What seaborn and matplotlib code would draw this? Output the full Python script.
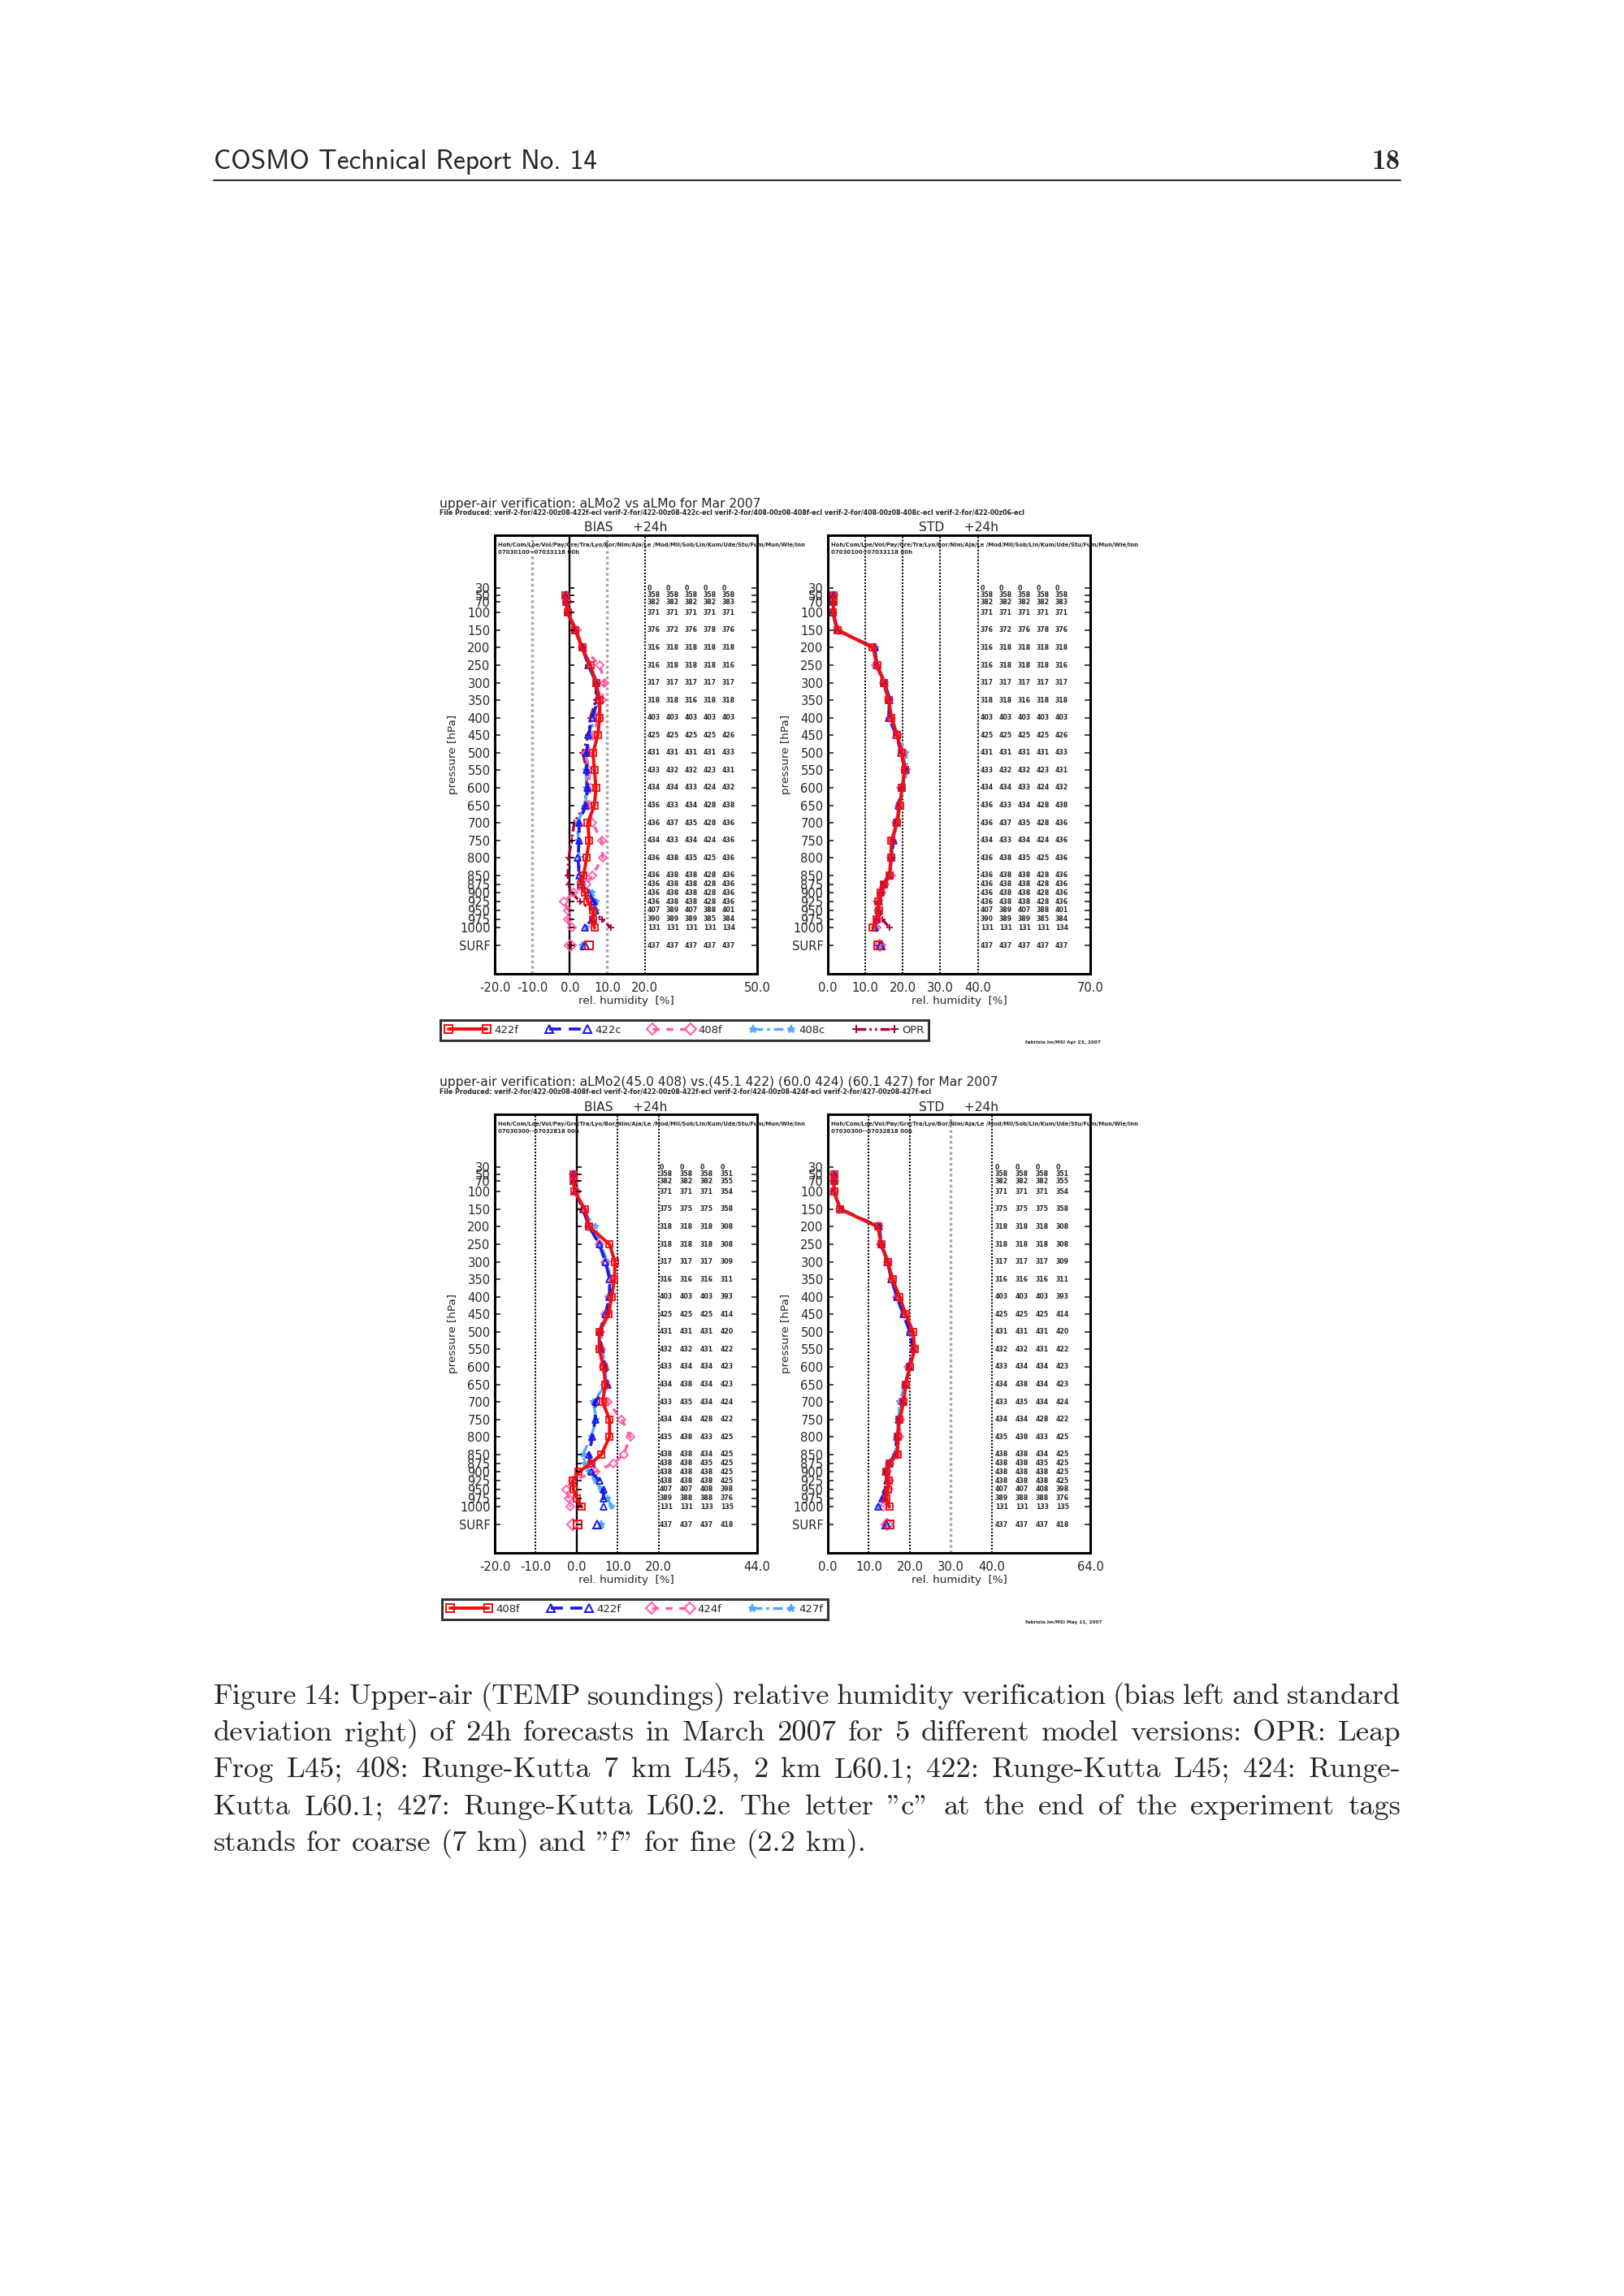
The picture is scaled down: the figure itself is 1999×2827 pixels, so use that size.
# Page 18 of COSMO Technical Report No. 14: upper-air rel. humidity verification
# Writes: out.png (2000 x 2827)

import pandas as pd
import matplotlib
matplotlib.use("Agg")
import matplotlib.pyplot as plt
from matplotlib.lines import Line2D
import seaborn as sns
import warnings
warnings.filterwarnings("ignore")

W, H, DPI = 2000, 2827, 242

# ─── DATA ────────────────────────────────────────────────────────────────────

LEVELS = [50, 70, 100, 150, 200, 250, 300, 350, 400, 450, 500, 550, 600, 650,
          700, 750, 800, 850, 875, 900, 925, 950, 975, 1000]
TICK_LEVELS = [30] + LEVELS

# top block: aLMo2 vs aLMo
NAMES_1 = ["422f", "422c", "408f", "408c", "OPR"]
BIAS1_422F = [-1.2, -1.0, -0.6, 1.5, 3.3, 5.5, 7.0, 8.0, 8.0, 7.5, 6.2, 6.6, 7.0, 6.6,
              4.8, 5.2, 4.5, 3.7, 3.0, 4.0, 4.8, 6.2, 6.2, 6.6]
BIAS1_422C = [-1.2, -1.0, -0.5, 1.5, 3.3, 5.0, 7.0, 7.5, 6.0, 5.0, 4.5, 4.5, 4.8, 4.3,
              2.5, 2.5, 2.2, 2.5, 3.0, 5.0, 6.5, 6.8, 6.0, 4.0]
BIAS1_408F = [-1.0, -0.5, -0.2, 1.8, 3.5, 8.0, 9.3, 8.5, 7.5, 6.5, 4.5, 5.0, 5.5, 5.0,
              6.0, 8.5, 8.8, 6.0, 4.5, 1.0, -1.5, -0.5, -0.5, 0.5]
BIAS1_408C = [-1.0, -0.8, -0.3, 1.5, 3.3, 5.3, 7.5, 8.0, 6.5, 5.5, 4.5, 4.3, 4.5, 4.2,
              2.0, 2.3, 2.5, 2.8, 3.5, 6.0, 7.0, 7.0, 6.5, 4.5]
BIAS1_OPR = [-1.0, -0.8, -0.3, 1.5, 3.3, 5.0, 7.0, 7.0, 5.5, 5.0, 3.5, 4.5, 4.5, 4.0,
             1.2, 0.5, -0.3, -0.5, -0.3, 0.5, 2.8, 6.0, 8.5, 11.0]
BIAS1_SURF = [5.2, 4.0, 0.2, 3.5, 0.3]

STD1_422F = [1.6, 1.6, 1.4, 2.6, 12.0, 13.2, 15.0, 16.2, 17.0, 18.5, 19.8, 20.5, 19.8, 19.2,
             18.5, 17.0, 16.8, 16.5, 15.0, 14.0, 13.5, 13.6, 13.0, 12.0]
STD1_422C = [1.5, 1.5, 1.3, 2.5, 12.5, 13.0, 15.2, 16.5, 16.2, 18.3, 19.5, 20.8, 19.8, 18.8,
             18.2, 17.5, 17.0, 16.3, 14.8, 14.0, 13.6, 13.5, 13.0, 12.5]
STD1_408F = [1.5, 1.4, 1.3, 2.8, 12.3, 12.8, 15.0, 16.3, 16.6, 18.6, 20.2, 20.6, 19.6, 19.0,
             18.2, 17.2, 16.8, 16.8, 15.2, 14.2, 13.2, 13.5, 13.2, 13.0]
STD1_408C = [1.6, 1.6, 1.4, 2.5, 12.6, 13.2, 15.3, 16.6, 16.8, 18.9, 20.8, 21.2, 20.0, 19.2,
             18.5, 17.4, 17.2, 16.6, 15.1, 14.3, 13.8, 13.7, 13.1, 12.7]
STD1_OPR = [1.5, 1.5, 1.3, 2.4, 12.2, 13.0, 14.8, 16.2, 16.4, 18.4, 19.6, 20.4, 19.9, 19.0,
            18.3, 17.2, 16.9, 16.4, 15.0, 14.1, 13.4, 13.7, 14.5, 16.5]
STD1_SURF = [13.5, 14.0, 13.8, 14.2, 13.6]

# station counts per level (rows 30 ... 1000, SURF)
COUNT1_422F = [0, 358, 382, 371, 376, 316, 316, 317, 318, 403, 425, 431, 433, 434, 436,
               436, 434, 436, 436, 436, 436, 436, 407, 390, 131, 437]
COUNT1_422C = [0, 358, 382, 371, 372, 318, 318, 317, 318, 403, 425, 431, 432, 434, 433,
               437, 433, 438, 438, 438, 438, 438, 389, 389, 131, 437]
COUNT1_408F = [0, 358, 382, 371, 376, 318, 318, 317, 316, 403, 425, 431, 432, 433, 434,
               435, 434, 435, 438, 438, 438, 438, 407, 389, 131, 437]
COUNT1_408C = [0, 358, 382, 371, 378, 318, 318, 317, 318, 403, 425, 431, 423, 424, 428,
               428, 424, 425, 428, 428, 428, 428, 388, 385, 131, 437]
COUNT1_OPR = [0, 358, 383, 371, 376, 318, 316, 317, 318, 403, 426, 433, 431, 432, 438,
              436, 436, 436, 436, 436, 436, 436, 401, 384, 134, 437]

# bottom block: aLMo2 fine-mesh versions
NAMES_2 = ["408f", "422f", "424f", "427f"]
BIAS2_408F = [-0.8, -0.8, -0.5, 2.0, 3.0, 8.0, 9.3, 9.2, 8.5, 7.8, 5.5, 5.5, 6.5, 7.0,
              6.3, 8.0, 8.0, 6.0, 3.5, 0.5, -1.0, -0.8, 0.0, 1.2]
BIAS2_422F = [-0.8, -0.8, -0.3, 1.5, 3.0, 5.5, 7.0, 8.0, 8.0, 7.0, 5.5, 6.0, 7.0, 7.5,
              4.5, 4.5, 3.8, 3.0, 3.3, 3.5, 5.5, 6.5, 6.5, 6.5]
BIAS2_424F = [-0.8, -0.5, 0.0, 1.5, 3.0, 5.5, 7.0, 8.5, 8.0, 7.0, 5.8, 6.0, 6.5, 7.0,
              7.5, 11.0, 13.0, 11.5, 9.0, 4.5, -1.0, -2.5, -2.0, -1.5]
BIAS2_427F = [-0.5, -0.5, 0.0, 1.3, 4.5, 5.8, 7.5, 8.3, 8.0, 7.5, 6.0, 6.2, 7.0, 7.2,
              4.0, 4.8, 3.5, 1.5, 2.0, 3.0, 4.5, 6.0, 7.5, 8.5]
BIAS2_SURF = [0.3, 5.0, -1.0, 6.0]

STD2_408F = [1.5, 1.5, 1.5, 3.0, 12.2, 13.0, 14.6, 15.8, 17.5, 19.0, 20.8, 21.2, 20.0, 19.0,
             18.5, 17.5, 17.0, 17.0, 15.0, 14.3, 14.8, 14.6, 14.2, 15.0]
STD2_422F = [1.5, 1.5, 1.4, 3.2, 12.5, 13.0, 14.5, 15.5, 16.8, 18.4, 20.0, 20.8, 19.8, 18.9,
             18.3, 17.3, 16.8, 16.5, 14.8, 14.0, 14.5, 14.0, 13.3, 12.3]
STD2_424F = [1.4, 1.5, 1.5, 3.0, 12.3, 12.8, 14.7, 15.7, 16.9, 18.7, 20.3, 21.0, 19.7, 19.0,
             18.3, 17.6, 17.5, 16.8, 15.0, 14.4, 15.0, 14.8, 14.0, 13.5]
STD2_427F = [1.5, 1.5, 1.5, 3.2, 12.6, 13.2, 14.8, 15.6, 16.8, 18.6, 20.2, 21.0, 19.8, 18.8,
             17.5, 17.3, 16.8, 16.5, 14.9, 14.3, 14.8, 14.5, 13.8, 12.5]
STD2_SURF = [15.0, 14.2, 14.5, 14.3]

COUNT2_408F = [0, 358, 382, 371, 375, 318, 318, 317, 316, 403, 425, 431, 432, 433, 434,
               433, 434, 435, 438, 438, 438, 438, 407, 389, 131, 437]
COUNT2_422F = [0, 358, 382, 371, 375, 318, 318, 317, 316, 403, 425, 431, 432, 434, 438,
               435, 434, 438, 438, 438, 438, 438, 407, 388, 131, 437]
COUNT2_424F = [0, 358, 382, 371, 375, 318, 318, 317, 316, 403, 425, 431, 431, 434, 434,
               434, 428, 433, 434, 435, 438, 438, 408, 388, 133, 437]
COUNT2_427F = [0, 351, 355, 354, 358, 308, 308, 309, 311, 393, 414, 420, 422, 423, 423,
               424, 422, 425, 425, 425, 425, 425, 398, 376, 135, 418]

BIAS1_TICKS = [-20, -10, 0, 10, 20, 50]
STD1_TICKS = [0, 10, 20, 30, 40, 70]
BIAS2_TICKS = [-20, -10, 0, 10, 20, 44]
STD2_TICKS = [0, 10, 20, 30, 40, 64]

TITLE_1 = "upper-air verification: aLMo2 vs aLMo for Mar 2007"
TITLE_2 = "upper-air verification: aLMo2(45.0 408) vs.(45.1 422) (60.0 424) (60.1 427) for Mar 2007"
FILES_1 = ("File Produced: verif-2-for/422-00z08-422f-ecl verif-2-for/422-00z08-422c-ecl "
           "verif-2-for/408-00z08-408f-ecl verif-2-for/408-00z08-408c-ecl verif-2-for/422-00z06-ecl")
FILES_2 = ("File Produced: verif-2-for/422-00z08-408f-ecl verif-2-for/422-00z08-422f-ecl "
           "verif-2-for/424-00z08-424f-ecl verif-2-for/427-00z08-427f-ecl")
STATIONS = "Hoh/Com/Loe/Vol/Pay/Gre/Tra/Lyo/Bor/Nim/Aja/Le /Mod/Mil/Sob/Lin/Kum/Ude/Stu/Fum/Mun/Wie/Inn"
PERIOD_1 = "07030100--07033118 00h"
PERIOD_2 = "07030300--07032818 00h"
STAMP_1 = "fabrizio.lm/MSI Apr 23, 2007"
STAMP_2 = "fabrizio.lm/MSI May 11, 2007"

HEADER = "COSMO Technical Report No. 14"
PAGE = "18"
CAPTION = [
    "Figure 14: Upper-air (TEMP soundings) relative humidity verification (bias left and standard",
    "deviation right) of 24h forecasts in March 2007 for 5 different model versions: OPR: Leap",
    "Frog L45; 408: Runge-Kutta 7 km L45, 2 km L60.1; 422: Runge-Kutta L45; 424: Runge-",
    'Kutta L60.1; 427: Runge-Kutta L60.2.  The letter "c" at the end of the experiment tags',
    'stands for coarse (7 km) and "f" for fine (2.2 km).',
]

# ─── STYLE / LAYOUT ──────────────────────────────────────────────────────────

STYLES = [
    dict(color="#f01010", ls="-", marker="s", lw=1.2),
    dict(color="#1a1ae6", ls=(0, (4, 2.5)), marker="^", lw=1.1),
    dict(color="#ff5ca8", ls=(0, (2.5, 2.5)), marker="D", lw=1.0),
    dict(color="#52a8ff", ls=(0, (3.5, 1.5, 1, 1.5)), marker="*", lw=1.0),
    dict(color="#b0003c", ls=(0, (3.5, 1.2, 0.8, 1.2, 0.8, 1.2)), marker="+", lw=1.0),
]
SURF_P = 1051
YLIM = (1131, -121)
AX_W, AX_H = 323, 540
SANS = ["DejaVu Sans"]
SERIF = ["cmr10", "DejaVu Serif"]

sns.set_style("white")
plt.rcParams["font.family"] = SANS
plt.rcParams["axes.unicode_minus"] = False

fig = plt.figure(figsize=(W / DPI, H / DPI), dpi=DPI)
fig.patch.set_facecolor("white")


def px_axes(x0, y0):
    return fig.add_axes([x0 / W, 1 - (y0 + AX_H) / H, AX_W / W, AX_H / H])


def ftext(x, y, s, **kw):
    return fig.text(x / W, 1 - y / H, s, **kw)


def fit_width(txt, width_px):
    r = fig.canvas.get_renderer()
    w = txt.get_window_extent(r).width
    txt.set_fontsize(txt.get_fontsize() * width_px / w)
    return txt.get_fontsize()


def mfc_for(st):
    return "none" if st["marker"] in ("s", "^", "D") else st["color"]


# ─── PANELS ──────────────────────────────────────────────────────────────────

def draw_panel(ax, series, surf, counts, xlim, xticks, refs, bias, col_px, step_px,
               period, head):
    # draw in reverse so the first experiment ends up on top
    for i in reversed(range(len(series))):
        st = STYLES[i]
        df = pd.DataFrame({"rh": series[i], "p": LEVELS})
        sns.lineplot(data=df, x="rh", y="p", orient="y", errorbar=None, ax=ax,
                     color=st["color"], linestyle=st["ls"], lw=st["lw"],
                     marker=st["marker"], ms=2.3, mfc=mfc_for(st),
                     mec=st["color"], mew=0.55)
        ax.plot([surf[i]], [SURF_P], marker=st["marker"], ms=2.8, mfc=mfc_for(st),
                mec=st["color"], mew=0.6, ls="none")

    for x, col, lw in refs:
        ax.axvline(x, color=col, ls=(0, (1, 1)), lw=lw, zorder=0)
    rng = xlim[1] - xlim[0]
    if bias:
        ax.axvline(0, color="black", lw=0.7, zorder=0)
        ax.hlines(TICK_LEVELS + [SURF_P], 0, 6 * rng / AX_W, color="black", lw=0.5)

    ax.set_xlim(xlim)
    ax.set_ylim(YLIM)
    ax.set_xticks(xticks)
    ax.set_xticklabels([f"{t:.1f}" for t in xticks])
    ax.set_yticks(TICK_LEVELS + [SURF_P])
    ax.set_yticklabels([str(p) for p in TICK_LEVELS] + ["SURF"])
    ax.tick_params(axis="x", length=0, labelsize=4.4, pad=3)
    ax.tick_params(axis="y", direction="in", length=2.2, width=0.5, labelsize=4.4,
                   pad=1.6, left=True, right=True)
    ax.set_xlabel("rel. humidity  [%]", fontsize=4.0, labelpad=0.6)
    ax.set_ylabel("pressure [hPa]", fontsize=4.0)
    ax.yaxis.set_label_coords(-45 / AX_W, 0.5)
    for sp in ax.spines.values():
        sp.set_color("black")
        sp.set_linewidth(0.9)

    # station counts
    rows = TICK_LEVELS + [SURF_P]
    for j, col in enumerate(counts):
        xc = xlim[0] + (col_px + j * step_px) * rng / AX_W
        for p, n in zip(rows, col):
            ax.text(xc, p, str(n), fontsize=2.3, fontweight="bold", ha="left",
                    va="center")

    ax.text(4 / AX_W, 1 - 12 / AX_H, STATIONS, transform=ax.transAxes, fontsize=2.05,
            fontweight="bold", va="center", ha="left", clip_on=False)
    ax.text(4 / AX_W, 1 - 21 / AX_H, period, transform=ax.transAxes, fontsize=2.05,
            fontweight="bold", va="center", ha="left")
    ax.text(0.5, 1 + 9 / AX_H, head, transform=ax.transAxes, fontsize=4.6,
            va="center", ha="center")


def draw_legend(names, x0, y0, n):
    handles = []
    for i in range(n):
        st = STYLES[i]
        handles.append(Line2D([], [], color=st["color"], ls=st["ls"], lw=st["lw"],
                              marker=st["marker"], ms=2.8, mfc=mfc_for(st),
                              mec=st["color"], mew=0.6))
    leg = fig.legend(handles, names, loc="upper left",
                     bbox_to_anchor=(x0 / W, 1 - y0 / H), ncol=n, numpoints=2,
                     fontsize=3.9, handlelength=4.2, handletextpad=0.4,
                     columnspacing=2.6, borderpad=0.45, borderaxespad=0,
                     frameon=True, fancybox=False, edgecolor="black")
    leg.get_frame().set_linewidth(0.9)
    return leg


# top block
ax1 = px_axes(609, 659)
draw_panel(ax1, [BIAS1_422F, BIAS1_422C, BIAS1_408F, BIAS1_408C, BIAS1_OPR], BIAS1_SURF,
           [COUNT1_422F, COUNT1_422C, COUNT1_408F, COUNT1_408C, COUNT1_OPR],
           (-20, 50), BIAS1_TICKS,
           [(-10, "#a8a8a8", 1.0), (10, "#a8a8a8", 1.0), (20, "black", 0.6)],
           True, 188, 23, PERIOD_1, "BIAS     +24h")
ax2 = px_axes(1019, 659)
draw_panel(ax2, [STD1_422F, STD1_422C, STD1_408F, STD1_408C, STD1_OPR], STD1_SURF,
           [COUNT1_422F, COUNT1_422C, COUNT1_408F, COUNT1_408C, COUNT1_OPR],
           (0, 70), STD1_TICKS,
           [(10, "black", 0.6), (20, "black", 0.6), (30, "black", 0.6), (40, "black", 0.6)],
           False, 188, 23, PERIOD_1, "STD     +24h")

# bottom block
ax3 = px_axes(609, 1372)
draw_panel(ax3, [BIAS2_408F, BIAS2_422F, BIAS2_424F, BIAS2_427F], BIAS2_SURF,
           [COUNT2_408F, COUNT2_422F, COUNT2_424F, COUNT2_427F],
           (-20, 44), BIAS2_TICKS,
           [(-10, "black", 0.6), (10, "black", 0.6), (20, "black", 0.6)],
           True, 203, 25, PERIOD_2, "BIAS     +24h")
ax4 = px_axes(1019, 1372)
draw_panel(ax4, [STD2_408F, STD2_422F, STD2_424F, STD2_427F], STD2_SURF,
           [COUNT2_408F, COUNT2_422F, COUNT2_424F, COUNT2_427F],
           (0, 64), STD2_TICKS,
           [(10, "black", 0.6), (20, "black", 0.6), (30, "#a8a8a8", 1.0), (40, "black", 0.6)],
           False, 206, 25, PERIOD_2, "STD     +24h")

draw_legend(NAMES_1, 542, 1256, 5)
draw_legend(NAMES_2, 544, 1969, 4)

# block titles, file lines, stamps
t1 = ftext(541, 620, TITLE_1, fontsize=4.5, va="center", ha="left")
fs_title = fit_width(t1, 397)
ftext(541, 1333, TITLE_2, fontsize=fs_title, va="center", ha="left")
f1 = ftext(541, 631, FILES_1, fontsize=2.0, fontweight="bold", va="center", ha="left")
fs_files = fit_width(f1, 732)
ftext(541, 1344, FILES_2, fontsize=fs_files, fontweight="bold", va="center", ha="left")
s1 = ftext(1262, 1284, STAMP_1, fontsize=2.0, fontweight="bold", va="center", ha="left")
fs_stamp = fit_width(s1, 94)
ftext(1262, 1997, STAMP_2, fontsize=fs_stamp, fontweight="bold", va="center", ha="left")

# ─── PAGE HEADER AND CAPTION ─────────────────────────────────────────────────

hd = ftext(263, 208, HEADER, fontsize=11, family=["cmss10", "DejaVu Sans"], va="baseline")
fs_head = fit_width(hd, 473)
ftext(1724, 208, PAGE, fontsize=fs_head * 1.05, family=["cmb10", "DejaVu Serif"],
      fontweight="bold", va="baseline", ha="right")
fig.add_artist(Line2D([263 / W, 1724 / W], [1 - 222 / H, 1 - 222 / H], color="black",
                      lw=0.5))

probe = ftext(263, 0, CAPTION[-1], fontsize=11, family=SERIF, va="baseline")
fs_cap = fit_width(probe, 804)
probe.remove()

renderer = fig.canvas.get_renderer()
X0, X1 = 263, 1724
for k, line in enumerate(CAPTION):
    words = line.split()
    y = 2086 + 45.2 * k + 12
    arts = [ftext(0, y, w, fontsize=fs_cap, family=SERIF, va="baseline") for w in words]
    widths = [a.get_window_extent(renderer).width for a in arts]
    if k == len(CAPTION) - 1:
        gap = fs_cap * DPI / 72 * 0.333
    else:
        gap = (X1 - X0 - sum(widths)) / (len(words) - 1)
    x = X0
    for a, w in zip(arts, widths):
        a.set_x(x / W)
        x += w + gap

fig.savefig("out.png", dpi=DPI, facecolor="white")
print("Saved out.png")
